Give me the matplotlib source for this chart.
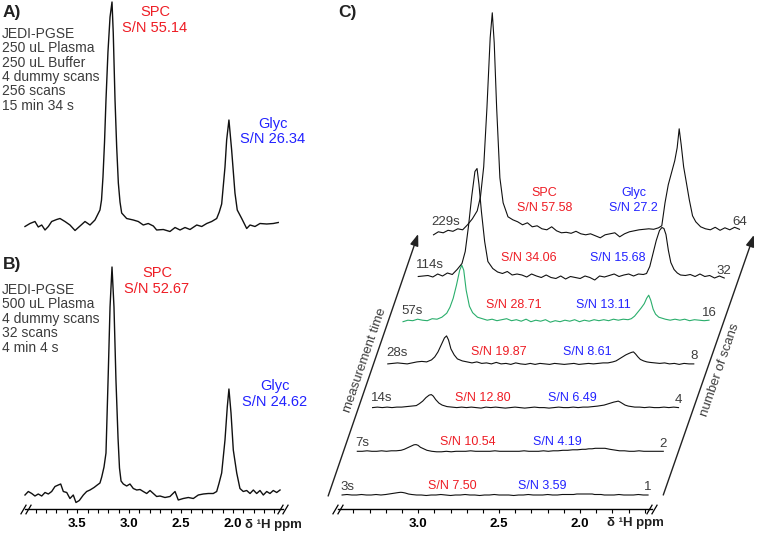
import numpy as np
import matplotlib
matplotlib.use('Agg')
import matplotlib.pyplot as plt
from matplotlib.ticker import FixedLocator, FormatStrFormatter
from matplotlib.transforms import offset_copy

plt.rcParams['font.family'] = ['Liberation Sans', 'DejaVu Sans']

# ---------------- data ----------------
# panel A: 256 scans, 250 uL plasma + 250 uL buffer
ppm_a = [4.002, 3.954, 3.906, 3.874, 3.841, 3.809, 3.777, 3.745, 3.697, 3.665,
         3.617, 3.569, 3.520, 3.472, 3.424, 3.376, 3.328,
         3.280, 3.265, 3.251, 3.236, 3.222, 3.203, 3.183, 3.164, 3.152, 3.135, 3.119, 3.103, 3.087, 3.071,
         3.023, 2.959, 2.911, 2.863, 2.815, 2.766, 2.734, 2.670, 2.606, 2.557,
         2.509, 2.461, 2.413, 2.348, 2.300, 2.252, 2.204, 2.156, 2.131,
         2.108, 2.076, 2.060, 2.038, 2.012, 1.980, 1.958,
         1.915, 1.867, 1.835, 1.787, 1.739, 1.674, 1.611, 1.563]
int_a = [-4.5, -1.5, 0.5, -5, -3, -8, -4.5, 0.5, 2.5, 3.5,
         0.5, -3, -8.5, -4, 0.5, -3, 2,
         12, 22, 45, 80, 122, 170, 205, 220, 189, 122, 75, 39, 20, 9,
         3.5, 2, 0.5, -3, -1.5, -4, -8, -7.5, -9.5, -5.5,
         -8, -5.5, -7.5, -3, -4.5, -1.5, 0.5, 3.5, 10,
         18, 55, 82, 102, 72, 29, 12,
         3.5, -6.5, -3, -4.5, -1.5, -2, -1.5, -0.5]

# panel B: 32 scans, 500 uL plasma
ppm_b = [4.002, 3.970, 3.937, 3.906, 3.874, 3.841, 3.809, 3.777, 3.745, 3.713,
         3.681, 3.658, 3.633, 3.600, 3.569, 3.537, 3.511, 3.479, 3.440, 3.408,
         3.376, 3.337, 3.306, 3.280, 3.263,
         3.241, 3.222, 3.200, 3.183, 3.164, 3.145, 3.126, 3.106, 3.092, 3.077, 3.055,
         3.023, 2.991, 2.959, 2.926, 2.894, 2.863, 2.830, 2.798, 2.766, 2.734,
         2.702, 2.654, 2.606, 2.557, 2.526, 2.478, 2.429, 2.381, 2.333, 2.285,
         2.237, 2.189, 2.156, 2.134,
         2.108, 2.076, 2.054, 2.038, 2.018, 1.996, 1.963,
         1.932, 1.900, 1.867, 1.835, 1.803, 1.771, 1.739, 1.707, 1.674, 1.643,
         1.611, 1.578, 1.546]
int_b = [-2, 1.5, -0.5, -3, -1, -3, 0.5, -1, 1.5, 6.5,
         8, 9, 1.5, 0.5, -5.5, -2, -9.5, -7.5, -2, 1.5,
         3, 5.5, 8, 10, 16,
         26, 40, 120, 186, 226, 186, 113, 55, 25, 12, 9,
         7, 9, 4.5, 3, 3.5, 1.5, -0.5, 2.5, -0.5, -3.5,
         -3, -4.5, -3.5, 1.5, -7, -5.5, -4.5, -5.5, -2, -1,
         -0.5, -0.5, 1.5, 9.5,
         20, 53, 86, 104, 80, 43, 20,
         4.5, 1.5, 2.5, -0.5, 3, -0.5, 2.5, -2, 1.5, -0.5,
         2.5, 0.5, 3]

# panel C: common ppm grid, one intensity list per number of scans
ppm_c = [3.47, 3.44, 3.41, 3.38, 3.35, 3.32, 3.29, 3.26, 3.23, 3.20,
         3.18, 3.16, 3.14, 3.12, 3.107, 3.095, 3.08, 3.06, 3.04, 3.01,
         2.98, 2.95, 2.92, 2.89, 2.86, 2.83, 2.80, 2.77, 2.74, 2.71,
         2.68, 2.65, 2.62, 2.59, 2.56, 2.53, 2.50, 2.47, 2.44, 2.41,
         2.38, 2.35, 2.32, 2.29, 2.26, 2.23, 2.20, 2.17, 2.14, 2.11, 2.08,
         2.06, 2.04, 2.02, 2.00, 1.98, 1.965, 1.9525, 1.94, 1.925, 1.91, 1.89, 1.87, 1.85,
         1.82, 1.79, 1.76, 1.73, 1.70, 1.67, 1.64, 1.61, 1.58]
c_1 = [0, 0.5, 0, 0, 0.5, 0, 0, 0.5, 0, 0.5,
       1, 1.5, 2, 2.5, 2.7, 2.5, 2, 1, 0.5, 0,
       0, -0.5, 0, 0, 0.5, 0, -0.5, 0, 0, 0.5,
       0, 0, -0.5, 0, 0, 0.5, 0, 0, 0, -0.5,
       0, 0, 0.5, 0, 0, 0, 0.5, 0, 0, 0.5, 0.5,
       0.5, 0.5, 1, 1, 1, 1, 1, 1, 1, 0.5, 0.5, 0.5, 0,
       0, 0, 0.5, 0, 0, 0, 0.5, 0, 0]
c_2 = [0, 0, 0.5, 0, 0, 0.5, 0, 0.5, 0.5, 1,
       2, 3.5, 5, 6.5, 6.7, 6, 4, 2.5, 1, 0,
       -0.5, -0.5, 0, -0.5, 0, 0, 0, 0.5, 0, 0,
       0, 0, 0.5, 0, 0, 0, 0, 0, 0.5, 0,
       0, 0, 0.5, 0, 0.5, 0.5, 1, 1, 1.5, 1.5, 2,
       2, 2.5, 2.5, 3, 3, 3, 3, 3, 2.5, 2, 1.5, 1, 0.5,
       0.5, 0, 0, 0.5, 0, 0, 0, 0, 0]
c_4 = [0, 0.5, 0, 0.5, 0, 0.5, 0.5, 1, 1.5, 2,
       4, 6.5, 10, 12.5, 13, 11.5, 8, 4.5, 2.5, 1,
       0.5, 0, 0.5, 0, 0.5, 0, -0.5, 0.5, 0, 0.5,
       0, -0.5, 0, 0.5, 0, -0.5, 0, 0.5, 0, 0,
       -0.5, 0, 0.5, 0, 0, 0.5, 0, 0.5, 0.5, 1, 1.5,
       2, 2.5, 3.5, 4.5, 5.5, 6, 6.5, 5.5, 4, 2.5, 1.5, 1, 0.5,
       0.5, 0, 0.5, 0, 0, 0.5, 0, 0.5, 0]
c_8 = [0, 0.5, 1, 0.5, 0, 1, 2, 2.5, 2, 4,
       7, 12, 19, 26, 28, 24, 15, 9, 5, 3,
       2, 1, 2, 0.5, 1, 0, 1.5, 0, 0.5, -0.5,
       1, 0, -0.5, 0.5, -0.5, 0.5, 0, -0.5, 0.5, 0,
       -0.5, 0, 0.5, -0.5, 0, 0.5, 0, 0.5, 1, 1, 2,
       3, 5, 7, 9, 10.5, 11.5, 12, 10, 7, 4.5, 3, 2, 1.5,
       1, 0.5, 1, 0, 0.5, -0.5, 0.5, 0, 0]
c_16 = [-1.5, 0, -0.5, 1, 0, -0.5, 1.5, 1, 3, 7,
        13, 22, 35, 50, 55, 50, 30, 14, 7.5, 3,
        1.5, 0, 1, -0.5, 0.5, 1.5, -0.5, 0.5, -1, 1,
        -1.5, 0, -1, 0.5, -2, -0.5, -1.5, 0, -1, 0.5,
        -1.5, 0, -1, 0.5, -0.5, 0.5, -0.5, 1, 0, 1, 0.5,
        1.5, 4, 8, 12, 16.5, 22, 25, 20, 11, 6, 3, 2, 1,
        0, 1, 0, 1, -0.5, 0.5, 0, -0.5, 0]
c_32 = [0, 0.5, 1, -0.5, 2.5, 0.5, 3.5, 2, 7, 13,
        25, 50, 80, 105, 108, 92, 65, 35, 15, 8,
        4.5, 3, 5, 1.5, 2.5, 1.5, -0.5, 2.5, 0.5, -1,
        1.5, -1, -2, 0.5, -2.5, 0, -1, -2, 0.5, -1,
        -3.5, 0.5, -0.5, 1, 2.5, 0, 1.5, 2.5, 0.5, 2.5, 2,
        3, 10, 23, 36, 46, 49, 48, 42, 26, 14, 7, 3.5, 1.5,
        1, 2, 0, 2.5, 0, 1, -1.5, 0.5, -1.5]
c_64 = [-2, 1, 0, 2.5, 1.5, 4, 3, 8, 14, 22,
        36, 66, 125, 195, 220, 190, 125, 55, 30, 16,
        13, 11, 8, 10, 6, 7, 4, 3, 6, 2,
        0, 0.5, -0.5, 1.5, -1, -2, -1, -3, -5, -2,
        -1, 0, -4, -1, 1, 2, 3, 3.5, 4, 3.5, 5,
        7, 30, 48, 60, 72, 85, 104, 88, 66, 52, 33, 17, 11,
        6, 4, 3, 5.5, 2.5, 5, 3, 5.5, 3.5]

time_labels = ['3s', '7s', '14s', '28s', '57s', '114s', '229s']
scan_labels = ['1', '2', '4', '8', '16', '32', '64']
sn_spc_c = ['S/N 7.50', 'S/N 10.54', 'S/N 12.80', 'S/N 19.87', 'S/N 28.71', 'S/N 34.06', 'S/N 57.58']
sn_glyc_c = ['S/N 3.59', 'S/N 4.19', 'S/N 6.49', 'S/N 8.61', 'S/N 13.11', 'S/N 15.68', 'S/N 27.2']

info_a = ['JEDI-PGSE', '250 uL Plasma', '250 uL Buffer', '4 dummy scans', '256 scans', '15 min 34 s']
info_b = ['JEDI-PGSE', '500 uL Plasma', '4 dummy scans', '32 scans', '4 min 4 s']

# ---------------- style ----------------
RED = '#ee1c24'
BLUE = '#2222ff'
GREEN = '#2aae6c'
GREY = '#3c3c3c'
LINE = '#111111'

W, H = 757, 533
fig = plt.figure(figsize=(W / 100, H / 100), dpi=100)


def px_axes(x0, y0, x1, y1):
    return fig.add_axes([x0 / W, 1 - y1 / H, (x1 - x0) / W, (y1 - y0) / H])


def ftext(x, y, s, **kw):
    fig.text(x / W, 1 - y / H, s, **kw)


def ppm_axis(ax, lo, hi, majors, minors):
    for s in ['left', 'right', 'top']:
        ax.spines[s].set_visible(False)
    ax.spines['bottom'].set_bounds(lo, hi)
    ax.spines['bottom'].set_linewidth(1.0)
    ax.set_yticks([])
    ax.xaxis.set_major_locator(FixedLocator(majors))
    ax.xaxis.set_minor_locator(FixedLocator(minors))
    ax.xaxis.set_major_formatter(FormatStrFormatter('%.1f'))
    ax.tick_params(axis='x', which='both', direction='out', length=3, width=0.8, pad=3.5,
                   labelsize=9.5)
    for lab in ax.get_xticklabels():
        lab.set_fontweight('bold')
    # axis break marks "//" at both ends
    for dx in (-2.5, 2.5):
        t = offset_copy(ax.get_xaxis_transform(), fig=fig, x=dx, y=0, units='dots')
        ax.plot([lo, hi], [0, 0], transform=t, marker=[(-1, -1.7), (1, 1.7)],
                markersize=7, linestyle='none', color='k', mew=0.9, clip_on=False)


# ---------------- panel A ----------------
axA = px_axes(20, 0, 290, 240)
axA.plot(ppm_a, int_a, color=LINE, lw=1.0)
axA.set_xlim(4.05, 1.45)
axA.set_ylim(-18, 222)
axA.axis('off')

ftext(12, 12, 'A)', fontsize=12.5, fontweight='bold', ha='center', va='center', color='#222')
for i, s in enumerate(info_a):
    ftext(2, 34 + i * 14.3, s, fontsize=10, ha='left', va='center', color=GREY)
ftext(155, 12.5, 'SPC', fontsize=10.5, ha='center', va='center', color=RED)
ftext(155, 28, 'S/N 55.14', fontsize=10.5, ha='center', va='center', color=RED)
ftext(273, 124, 'Glyc', fontsize=10.5, ha='center', va='center', color=BLUE)
ftext(273, 139.5, 'S/N 26.34', fontsize=10.5, ha='center', va='center', color=BLUE)

# ---------------- panel B ----------------
axB = px_axes(20, 250, 290, 509)
axB.plot(ppm_b, int_b, color=LINE, lw=1.0)
axB.set_xlim(4.05, 1.45)
axB.set_ylim(-16, 243)
ppm_axis(axB, 1.52, 4.0, [3.5, 3.0, 2.5, 2.0],
         [round(v, 1) for v in np.arange(1.6, 3.95, 0.1)])

ftext(12, 265, 'B)', fontsize=12.5, fontweight='bold', ha='center', va='center', color='#222')
for i, s in enumerate(info_b):
    ftext(2, 290 + i * 14.4, s, fontsize=10, ha='left', va='center', color=GREY)
ftext(157, 273, 'SPC', fontsize=10.5, ha='center', va='center', color=RED)
ftext(157, 289, 'S/N 52.67', fontsize=10.5, ha='center', va='center', color=RED)
ftext(275, 386, 'Glyc', fontsize=10.5, ha='center', va='center', color=BLUE)
ftext(275, 402, 'S/N 24.62', fontsize=10.5, ha='center', va='center', color=BLUE)
ftext(245, 525, 'δ ¹H ppm', fontsize=9.5, fontweight='bold', ha='left', va='center', color='#222')

# ---------------- panel C ----------------
axC = px_axes(322, 0, 757, 509)
axC.set_xlim(3.594, 0.907)
axC.set_ylim(0, 509)
ppm_axis(axC, 1.557, 3.496, [3.0, 2.5, 2.0],
         [round(v, 1) for v in np.arange(1.6, 3.45, 0.1)])

c_traces = [c_1, c_2, c_4, c_8, c_16, c_32, c_64]
x_step = 15.25 / 162.0      # horizontal skew per trace (ppm)
y0, y_step = 14, 43.7       # baseline of first trace, vertical offset per trace
sn_dy = [9, 9.5, 10, 12, 15.5, 18.5, 25]
x_spc_lab, x_glyc_lab = 2.786, 2.235

for k, tr in enumerate(c_traces):
    x = np.array(ppm_c) - k * x_step
    base = y0 + k * y_step
    y = np.array(tr) + base
    axC.plot(x, y, color=GREEN if k == 4 else LINE, lw=0.8)
    axC.text(x[0] + 0.012, base + tr[0] + 8 + 0.8 * k, time_labels[k], fontsize=9.5,
             ha='left', va='center', color=GREY)
    axC.text(x[-1], base + tr[-1] + 7.5, scan_labels[k], fontsize=9.5,
             ha='center', va='center', color=GREY)
    axC.text(x_spc_lab - k * x_step, base + sn_dy[k], sn_spc_c[k], fontsize=9,
             ha='center', va='center', color=RED)
    axC.text(x_glyc_lab - k * x_step, base + sn_dy[k], sn_glyc_c[k], fontsize=9,
             ha='center', va='center', color=BLUE)
    if k == len(c_traces) - 1:
        axC.text(x_spc_lab - k * x_step, base + sn_dy[k] + 15, 'SPC', fontsize=9,
                 ha='center', va='center', color=RED)
        axC.text(x_glyc_lab - k * x_step, base + sn_dy[k] + 15, 'Glyc', fontsize=9,
                 ha='center', va='center', color=BLUE)

arrow_kw = dict(arrowstyle='-|>,head_length=0.5,head_width=0.18', color='#222',
                lw=1.0, mutation_scale=14, shrinkA=0, shrinkB=0)
axC.annotate('', xy=(3.0, 275), xytext=(3.556, 13), arrowprops=arrow_kw)
axC.annotate('', xy=(0.926, 274), xytext=(1.486, 14), arrowprops=arrow_kw)
axC.text(3.329, 149, 'measurement time', fontsize=9.5, rotation=71, rotation_mode='anchor',
         ha='center', va='center', color=GREY)
axC.text(1.136, 139, 'number of scans', fontsize=9.5, rotation=71, rotation_mode='anchor',
         ha='center', va='center', color=GREY)

ftext(347, 13, 'C)', fontsize=12.5, fontweight='bold', ha='center', va='center', color='#222')
ftext(607, 523, 'δ ¹H ppm', fontsize=9.5, fontweight='bold', ha='left', va='center', color='#222')

fig.savefig('out.png', dpi=100)
